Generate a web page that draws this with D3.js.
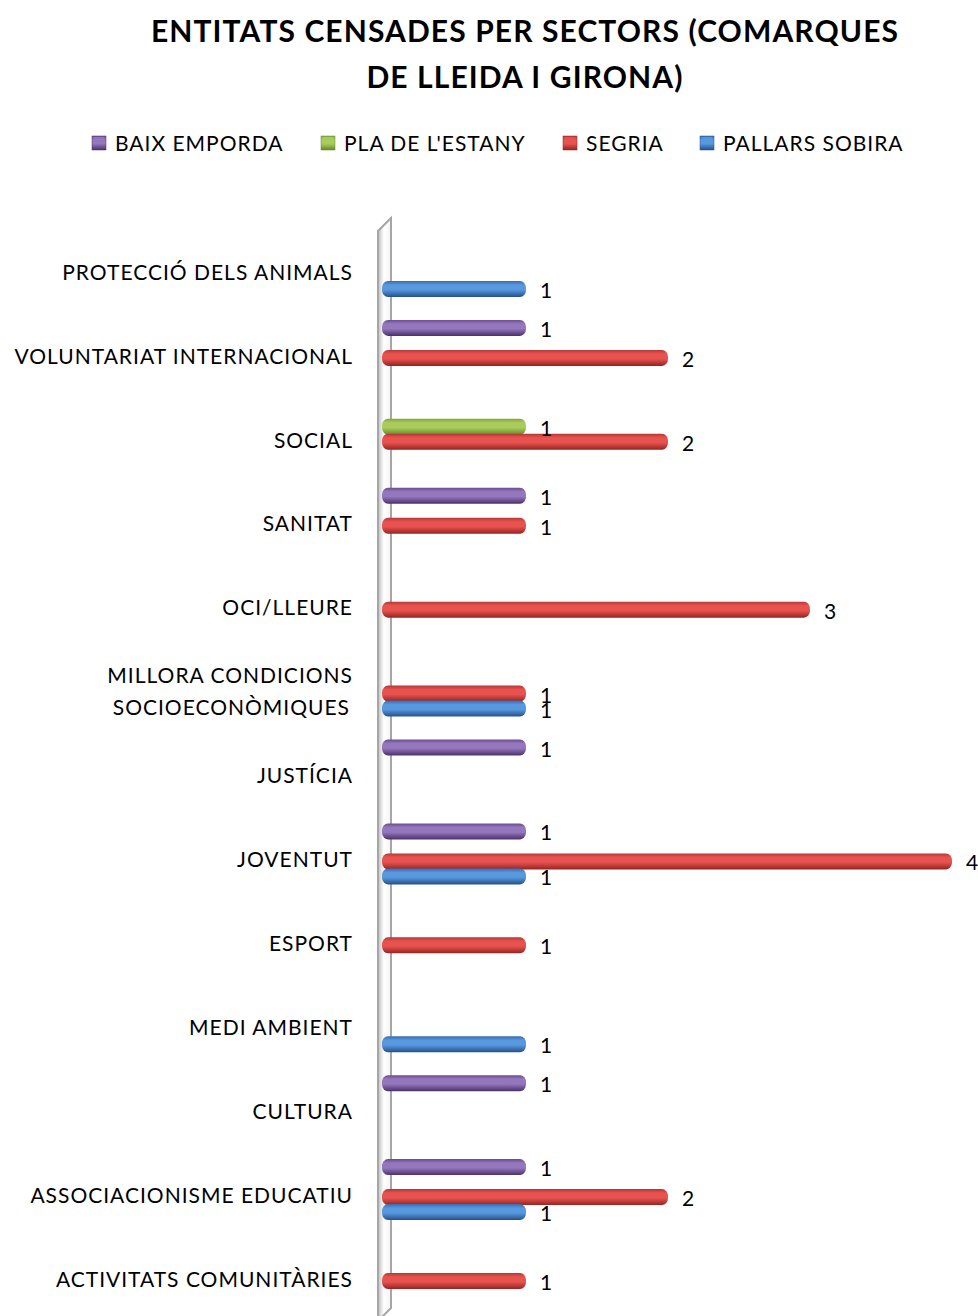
<!DOCTYPE html>
<html>
<head>
<meta charset="utf-8">
<script src="https://cdn.jsdelivr.net/npm/d3@7"></script>
<style>
  body { margin: 0; background: #fff; }
  text { font-family: Lato, "Open Sans", sans-serif; fill: #000; }
</style>
</head>
<body>
<svg id="chart"></svg>
<script>
// Categories, top to bottom as drawn
const categories = [
  "PROTECCIÓ DELS ANIMALS",
  "VOLUNTARIAT INTERNACIONAL",
  "SOCIAL",
  "SANITAT",
  "OCI/LLEURE",
  "MILLORA CONDICIONS|SOCIOECONÒMIQUES",
  "JUSTÍCIA",
  "JOVENTUT",
  "ESPORT",
  "MEDI AMBIENT",
  "CULTURA",
  "ASSOCIACIONISME EDUCATIU",
  "ACTIVITATS COMUNITÀRIES"
];

const seriesNames = ["BAIX EMPORDA", "PLA DE L'ESTANY", "SEGRIA", "PALLARS SOBIRA"];

// values per category (same order as categories), null = no bar
const baixEmporda   = [null, 1, null, 1, null, null, 1, 1, null, null, 1, 1, null];
const plaDeLEstany  = [null, null, 1, null, null, null, null, null, null, null, null, null, null];
const segria        = [null, 2, 2, 1, 3, 1, null, 4, 1, null, null, 2, 1];
const pallarsSobira = [1, null, null, null, null, 1, null, 1, null, 1, null, 1, null];

const seriesValues = [baixEmporda, plaDeLEstany, segria, pallarsSobira];
const seriesColors = [
  { top: "#6a4d8f", mid: "#9477bd", bot: "#4a316a" },
  { top: "#84a63e", mid: "#a9cd5d", bot: "#66862a" },
  { top: "#b43836", mid: "#e8534f", bot: "#942422" },
  { top: "#386ab0", mid: "#5898de", bot: "#24508c" }
];

const W = 978, H = 1316;
const svg = d3.select('#chart').attr('width', W).attr('height', H);
const defs = svg.append('defs');

seriesColors.forEach((c, i) => {
  const g = defs.append('linearGradient')
      .attr('id', 'grad' + i).attr('x1', 0).attr('y1', 0).attr('x2', 0).attr('y2', 1);
  g.append('stop').attr('offset', '0%').attr('stop-color', c.top);
  g.append('stop').attr('offset', '25%').attr('stop-color', c.mid);
  g.append('stop').attr('offset', '55%').attr('stop-color', c.mid);
  g.append('stop').attr('offset', '100%').attr('stop-color', c.bot);
});

const wallGrad = defs.append('linearGradient')
    .attr('id', 'wall').attr('x1', 0).attr('y1', 0).attr('x2', 1).attr('y2', 0);
wallGrad.append('stop').attr('offset', '0%').attr('stop-color', '#bdbdbd');
wallGrad.append('stop').attr('offset', '45%').attr('stop-color', '#ffffff');
wallGrad.append('stop').attr('offset', '100%').attr('stop-color', '#f4f4f4');

// Scales
const y = d3.scaleBand()
    .domain(categories)
    .range([224.5, 1315.5]);

const ySeries = d3.scaleBand()
    .domain(seriesNames)
    .range([-30, 30]);

const x = d3.scaleLinear()
    .domain([0, 4])
    .range([384, 952]);

// Title
svg.append('text')
    .attr('x', 525).attr('y', 42)
    .attr('text-anchor', 'middle')
    .style('font-size', '30px').style('font-weight', 'bold')
    .style('letter-spacing', '1.1px')
    .text('ENTITATS CENSADES PER SECTORS (COMARQUES');
svg.append('text')
    .attr('x', 525).attr('y', 88)
    .attr('text-anchor', 'middle')
    .style('font-size', '30px').style('font-weight', 'bold')
    .style('letter-spacing', '1.1px')
    .text('DE LLEIDA I GIRONA)');

// Legend
const legendX = [92, 321, 563, 700];
const legend = svg.append('g');
seriesNames.forEach((name, i) => {
  const lg = legend.append('g').attr('transform', 'translate(' + legendX[i] + ',136)');
  lg.append('rect').attr('width', 14).attr('height', 14)
      .attr('fill', 'url(#grad' + i + ')')
      .attr('stroke', seriesColors[i].bot).attr('stroke-width', 0.5);
  lg.append('path').attr('d', 'M1,1 L7,7 L13,1 Z')
      .attr('fill', seriesColors[i].mid).attr('opacity', 0.8);
  lg.append('text').attr('x', 23).attr('y', 14.5)
      .style('font-size', '21px')
      .style('letter-spacing', '1px')
      .text(name);
});

// Axis wall
svg.append('path')
    .attr('d', 'M378,231 L391,218 L391,1308 L378,1321 Z')
    .attr('fill', 'url(#wall)')
    .attr('stroke', '#a6a6a6')
    .attr('stroke-width', 2);

// Category axis
const yAxis = d3.axisLeft(y).tickSize(0).tickPadding(25);
const axisG = svg.append('g')
    .attr('transform', 'translate(378,6.5)')
    .call(yAxis);
axisG.select('.domain').remove();
axisG.selectAll('text')
    .style('font-size', '21px')
    .style('letter-spacing', '1px')
    .style('font-family', 'Lato, "Open Sans", sans-serif')
    .each(function(d) {
      const parts = d.split('|');
      if (parts.length > 1) {
        const t = d3.select(this);
        t.text(null);
        parts.forEach((p, k) => {
          t.append('tspan')
              .attr('x', -25 - (k === 1 ? 3 : 0))
              .attr('dy', k === 0 ? '-0.45em' : '1.5em')
              .text(p);
        });
      }
    });

// Bars
const barH = 16;
const flat = [];
seriesValues.forEach((vals, si) => {
  vals.forEach((v, ci) => {
    if (v != null) flat.push({ s: si, c: categories[ci], v: v });
  });
});

svg.selectAll('.bar')
    .data(flat)
  .enter().append('rect')
    .attr('class', 'bar')
    .attr('x', x(0) - 2)
    .attr('y', d => y(d.c) + y.bandwidth() / 2 + ySeries(seriesNames[d.s]) + ySeries.bandwidth() / 2 - barH / 2)
    .attr('width', d => x(d.v) - x(0) + 2)
    .attr('height', barH)
    .attr('rx', 6).attr('ry', 7)
    .attr('fill', d => 'url(#grad' + d.s + ')');

// Data labels
svg.selectAll('.lbl')
    .data(flat)
  .enter().append('text')
    .attr('class', 'lbl')
    .attr('x', d => x(d.v) + 14)
    .attr('y', d => y(d.c) + y.bandwidth() / 2 + ySeries(seriesNames[d.s]) + ySeries.bandwidth() / 2 + 9)
    .style('font-size', '21px')
    .text(d => d.v);
</script>
</body>
</html>
